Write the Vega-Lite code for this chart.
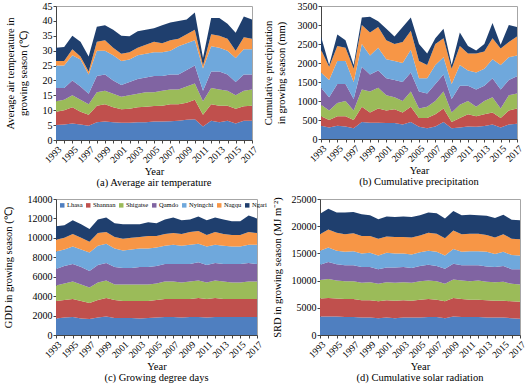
{
  "$schema": "https://vega.github.io/schema/vega-lite/v6.json",
  "padding": {"left": 2, "top": 0, "right": 2, "bottom": 0},
  "config": {
    "font": "Liberation Serif",
    "view": {"stroke": "#a6a6a6", "strokeWidth": 1},
    "axis": {"labelFont": "Liberation Serif", "titleFont": "Liberation Serif", "labelFontSize": 10, "titleFontSize": 10.5, "titleFontWeight": "normal", "labelColor": "#000", "titleColor": "#000", "domainColor": "#444", "tickColor": "#444", "tickSize": 3, "grid": false, "labelPadding": 1, "titlePadding": 14},
    "axisX": {"titlePadding": 2, "labelOverlap": false, "labelFontSize": 9.5},
    "title": {"font": "Liberation Serif", "fontSize": 10.5, "fontWeight": "normal", "color": "#000"},
    "legend": {"labelFont": "Liberation Serif", "labelFontSize": 6.5, "labelColor": "#000", "symbolType": "square", "symbolSize": 20, "symbolStrokeWidth": 0, "columnPadding": 2, "labelOffset": 1.5, "padding": 0}
  },
  "datasets": {
    "cities": [
      {"city": "Lhasa", "k": 1}, {"city": "Shannan", "k": 2}, {"city": "Shigatse", "k": 3}, {"city": "Qamdo", "k": 4},
      {"city": "Nyingchi", "k": 5}, {"city": "Nagqu", "k": 6}, {"city": "Ngari", "k": 7}
    ],
    "temp": [
      {"year": 1993, "Lhasa": 5.0, "Shannan": 4.5, "Shigatse": 3.5, "Qamdo": 4.5, "Nyingchi": 7.5, "Nagqu": 1.5, "Ngari": 4.5},
      {"year": 1994, "Lhasa": 5.2, "Shannan": 4.8, "Shigatse": 3.5, "Qamdo": 4.0, "Nyingchi": 7.5, "Nagqu": 1.5, "Ngari": 4.7},
      {"year": 1995, "Lhasa": 5.5, "Shannan": 5.5, "Shigatse": 4.0, "Qamdo": 5.0, "Nyingchi": 8.5, "Nagqu": 2.0, "Ngari": 4.5},
      {"year": 1996, "Lhasa": 5.2, "Shannan": 4.3, "Shigatse": 4.0, "Qamdo": 4.5, "Nyingchi": 9.0, "Nagqu": 1.0, "Ngari": 5.0},
      {"year": 1997, "Lhasa": 4.8, "Shannan": 3.7, "Shigatse": 3.5, "Qamdo": 3.5, "Nyingchi": 6.5, "Nagqu": 1.0, "Ngari": 5.0},
      {"year": 1998, "Lhasa": 6.0, "Shannan": 5.5, "Shigatse": 4.5, "Qamdo": 5.5, "Nyingchi": 8.5, "Nagqu": 3.0, "Ngari": 5.0},
      {"year": 1999, "Lhasa": 6.2, "Shannan": 5.8, "Shigatse": 4.5, "Qamdo": 5.5, "Nyingchi": 8.0, "Nagqu": 3.5, "Ngari": 5.0},
      {"year": 2000, "Lhasa": 6.0, "Shannan": 5.0, "Shigatse": 4.5, "Qamdo": 4.5, "Nyingchi": 8.5, "Nagqu": 2.5, "Ngari": 6.0},
      {"year": 2001, "Lhasa": 5.8, "Shannan": 4.5, "Shigatse": 4.2, "Qamdo": 4.0, "Nyingchi": 8.0, "Nagqu": 2.5, "Ngari": 6.0},
      {"year": 2002, "Lhasa": 5.8, "Shannan": 4.7, "Shigatse": 4.5, "Qamdo": 4.5, "Nyingchi": 7.5, "Nagqu": 2.5, "Ngari": 5.3},
      {"year": 2003, "Lhasa": 6.0, "Shannan": 5.0, "Shigatse": 4.5, "Qamdo": 5.0, "Nyingchi": 8.0, "Nagqu": 2.5, "Ngari": 5.5},
      {"year": 2004, "Lhasa": 6.0, "Shannan": 5.2, "Shigatse": 4.8, "Qamdo": 5.0, "Nyingchi": 8.0, "Nagqu": 3.0, "Ngari": 5.0},
      {"year": 2005, "Lhasa": 6.2, "Shannan": 5.2, "Shigatse": 4.6, "Qamdo": 5.5, "Nyingchi": 8.0, "Nagqu": 3.5, "Ngari": 4.5},
      {"year": 2006, "Lhasa": 6.2, "Shannan": 5.3, "Shigatse": 5.0, "Qamdo": 5.0, "Nyingchi": 8.0, "Nagqu": 3.0, "Ngari": 6.0},
      {"year": 2007, "Lhasa": 6.3, "Shannan": 5.7, "Shigatse": 5.0, "Qamdo": 5.0, "Nyingchi": 8.0, "Nagqu": 3.5, "Ngari": 6.0},
      {"year": 2008, "Lhasa": 6.5, "Shannan": 5.5, "Shigatse": 5.0, "Qamdo": 5.0, "Nyingchi": 9.5, "Nagqu": 2.5, "Ngari": 6.0},
      {"year": 2009, "Lhasa": 6.8, "Shannan": 5.7, "Shigatse": 5.5, "Qamdo": 5.5, "Nyingchi": 9.0, "Nagqu": 3.0, "Ngari": 5.0},
      {"year": 2010, "Lhasa": 7.0, "Shannan": 6.5, "Shigatse": 5.5, "Qamdo": 6.0, "Nyingchi": 8.5, "Nagqu": 3.5, "Ngari": 5.8},
      {"year": 2011, "Lhasa": 4.5, "Shannan": 4.0, "Shigatse": 4.5, "Qamdo": 3.5, "Nyingchi": 7.5, "Nagqu": 1.0, "Ngari": 2.5},
      {"year": 2012, "Lhasa": 6.5, "Shannan": 5.5, "Shigatse": 5.5, "Qamdo": 5.5, "Nyingchi": 8.5, "Nagqu": 4.0, "Ngari": 5.5},
      {"year": 2013, "Lhasa": 6.0, "Shannan": 5.5, "Shigatse": 5.5, "Qamdo": 6.0, "Nyingchi": 8.0, "Nagqu": 4.0, "Ngari": 6.0},
      {"year": 2014, "Lhasa": 6.5, "Shannan": 5.0, "Shigatse": 5.0, "Qamdo": 5.5, "Nyingchi": 8.0, "Nagqu": 4.0, "Ngari": 5.0},
      {"year": 2015, "Lhasa": 5.5, "Shannan": 5.0, "Shigatse": 4.5, "Qamdo": 4.5, "Nyingchi": 8.0, "Nagqu": 2.5, "Ngari": 6.0},
      {"year": 2016, "Lhasa": 6.5, "Shannan": 4.8, "Shigatse": 5.2, "Qamdo": 5.5, "Nyingchi": 8.5, "Nagqu": 4.0, "Ngari": 7.0},
      {"year": 2017, "Lhasa": 6.5, "Shannan": 5.0, "Shigatse": 5.5, "Qamdo": 5.0, "Nyingchi": 8.5, "Nagqu": 3.5, "Ngari": 6.5}
    ],
    "prec": [
      {"year": 1993, "Lhasa": 350, "Shannan": 250, "Shigatse": 300, "Qamdo": 450, "Nyingchi": 400, "Nagqu": 600, "Ngari": 350},
      {"year": 1994, "Lhasa": 300, "Shannan": 200, "Shigatse": 250, "Qamdo": 350, "Nyingchi": 450, "Nagqu": 350, "Ngari": 50},
      {"year": 1995, "Lhasa": 350, "Shannan": 250, "Shigatse": 350, "Qamdo": 500, "Nyingchi": 600, "Nagqu": 400, "Ngari": 300},
      {"year": 1996, "Lhasa": 330, "Shannan": 270, "Shigatse": 400, "Qamdo": 450, "Nyingchi": 600, "Nagqu": 350, "Ngari": 200},
      {"year": 1997, "Lhasa": 280, "Shannan": 220, "Shigatse": 250, "Qamdo": 300, "Nyingchi": 450, "Nagqu": 350, "Ngari": 100},
      {"year": 1998, "Lhasa": 450, "Shannan": 400, "Shigatse": 450, "Qamdo": 600, "Nyingchi": 600, "Nagqu": 500, "Ngari": 200},
      {"year": 1999, "Lhasa": 430, "Shannan": 270, "Shigatse": 550, "Qamdo": 450, "Nyingchi": 500, "Nagqu": 600, "Ngari": 420},
      {"year": 2000, "Lhasa": 430, "Shannan": 370, "Shigatse": 550, "Qamdo": 450, "Nyingchi": 600, "Nagqu": 550, "Ngari": 150},
      {"year": 2001, "Lhasa": 420, "Shannan": 330, "Shigatse": 400, "Qamdo": 450, "Nyingchi": 500, "Nagqu": 500, "Ngari": 300},
      {"year": 2002, "Lhasa": 420, "Shannan": 360, "Shigatse": 320, "Qamdo": 450, "Nyingchi": 500, "Nagqu": 450, "Ngari": 200},
      {"year": 2003, "Lhasa": 380, "Shannan": 320, "Shigatse": 300, "Qamdo": 500, "Nyingchi": 500, "Nagqu": 550, "Ngari": 400},
      {"year": 2004, "Lhasa": 450, "Shannan": 400, "Shigatse": 400, "Qamdo": 500, "Nyingchi": 600, "Nagqu": 500, "Ngari": 350},
      {"year": 2005, "Lhasa": 320, "Shannan": 230, "Shigatse": 250, "Qamdo": 450, "Nyingchi": 350, "Nagqu": 450, "Ngari": 450},
      {"year": 2006, "Lhasa": 280, "Shannan": 270, "Shigatse": 300, "Qamdo": 350, "Nyingchi": 400, "Nagqu": 350, "Ngari": 300},
      {"year": 2007, "Lhasa": 330, "Shannan": 320, "Shigatse": 350, "Qamdo": 450, "Nyingchi": 500, "Nagqu": 550, "Ngari": 150},
      {"year": 2008, "Lhasa": 450, "Shannan": 350, "Shigatse": 450, "Qamdo": 450, "Nyingchi": 450, "Nagqu": 500, "Ngari": 250},
      {"year": 2009, "Lhasa": 280, "Shannan": 170, "Shigatse": 250, "Qamdo": 350, "Nyingchi": 400, "Nagqu": 400, "Ngari": 100},
      {"year": 2010, "Lhasa": 300, "Shannan": 250, "Shigatse": 350, "Qamdo": 500, "Nyingchi": 550, "Nagqu": 500, "Ngari": 350},
      {"year": 2011, "Lhasa": 330, "Shannan": 320, "Shigatse": 350, "Qamdo": 400, "Nyingchi": 400, "Nagqu": 450, "Ngari": 200},
      {"year": 2012, "Lhasa": 320, "Shannan": 280, "Shigatse": 250, "Qamdo": 450, "Nyingchi": 450, "Nagqu": 500, "Ngari": 80},
      {"year": 2013, "Lhasa": 340, "Shannan": 310, "Shigatse": 350, "Qamdo": 400, "Nyingchi": 450, "Nagqu": 450, "Ngari": 200},
      {"year": 2014, "Lhasa": 380, "Shannan": 320, "Shigatse": 400, "Qamdo": 500, "Nyingchi": 500, "Nagqu": 550, "Ngari": 400},
      {"year": 2015, "Lhasa": 300, "Shannan": 250, "Shigatse": 250, "Qamdo": 500, "Nyingchi": 650, "Nagqu": 430, "Ngari": 100},
      {"year": 2016, "Lhasa": 380, "Shannan": 370, "Shigatse": 400, "Qamdo": 400, "Nyingchi": 600, "Nagqu": 400, "Ngari": 450},
      {"year": 2017, "Lhasa": 400, "Shannan": 400, "Shigatse": 400, "Qamdo": 450, "Nyingchi": 550, "Nagqu": 500, "Ngari": 250}
    ],
    "gdd": [
      {"year": 1993, "Lhasa": 1700, "Shannan": 1800, "Shigatse": 1600, "Qamdo": 1700, "Nyingchi": 1800, "Nagqu": 1200, "Ngari": 1400},
      {"year": 1994, "Lhasa": 1800, "Shannan": 1800, "Shigatse": 1700, "Qamdo": 1800, "Nyingchi": 1700, "Nagqu": 1200, "Ngari": 1300},
      {"year": 1995, "Lhasa": 1850, "Shannan": 1850, "Shigatse": 1800, "Qamdo": 1800, "Nyingchi": 1800, "Nagqu": 1300, "Ngari": 1400},
      {"year": 1996, "Lhasa": 1700, "Shannan": 1800, "Shigatse": 1700, "Qamdo": 1800, "Nyingchi": 1800, "Nagqu": 1200, "Ngari": 1400},
      {"year": 1997, "Lhasa": 1650, "Shannan": 1650, "Shigatse": 1600, "Qamdo": 1700, "Nyingchi": 1900, "Nagqu": 1100, "Ngari": 1300},
      {"year": 1998, "Lhasa": 1800, "Shannan": 1800, "Shigatse": 1800, "Qamdo": 1800, "Nyingchi": 2000, "Nagqu": 1300, "Ngari": 1400},
      {"year": 1999, "Lhasa": 1900, "Shannan": 1900, "Shigatse": 1800, "Qamdo": 1800, "Nyingchi": 2000, "Nagqu": 1200, "Ngari": 1500},
      {"year": 2000, "Lhasa": 1750, "Shannan": 1850, "Shigatse": 1600, "Qamdo": 1800, "Nyingchi": 1900, "Nagqu": 1200, "Ngari": 1400},
      {"year": 2001, "Lhasa": 1750, "Shannan": 1750, "Shigatse": 1700, "Qamdo": 1700, "Nyingchi": 1800, "Nagqu": 1200, "Ngari": 1500},
      {"year": 2002, "Lhasa": 1750, "Shannan": 1750, "Shigatse": 1700, "Qamdo": 1700, "Nyingchi": 1900, "Nagqu": 1200, "Ngari": 1400},
      {"year": 2003, "Lhasa": 1700, "Shannan": 1800, "Shigatse": 1700, "Qamdo": 1800, "Nyingchi": 1900, "Nagqu": 1200, "Ngari": 1300},
      {"year": 2004, "Lhasa": 1750, "Shannan": 1750, "Shigatse": 1700, "Qamdo": 1800, "Nyingchi": 1900, "Nagqu": 1300, "Ngari": 1400},
      {"year": 2005, "Lhasa": 1800, "Shannan": 1800, "Shigatse": 1700, "Qamdo": 1800, "Nyingchi": 1900, "Nagqu": 1200, "Ngari": 1300},
      {"year": 2006, "Lhasa": 1850, "Shannan": 1850, "Shigatse": 1800, "Qamdo": 1800, "Nyingchi": 1900, "Nagqu": 1200, "Ngari": 1500},
      {"year": 2007, "Lhasa": 1850, "Shannan": 1850, "Shigatse": 1800, "Qamdo": 1800, "Nyingchi": 2000, "Nagqu": 1200, "Ngari": 1600},
      {"year": 2008, "Lhasa": 1800, "Shannan": 1900, "Shigatse": 1700, "Qamdo": 1900, "Nyingchi": 1900, "Nagqu": 1200, "Ngari": 1400},
      {"year": 2009, "Lhasa": 1850, "Shannan": 1850, "Shigatse": 1800, "Qamdo": 1800, "Nyingchi": 2000, "Nagqu": 1300, "Ngari": 1300},
      {"year": 2010, "Lhasa": 1850, "Shannan": 1950, "Shigatse": 1800, "Qamdo": 1900, "Nyingchi": 1900, "Nagqu": 1300, "Ngari": 1500},
      {"year": 2011, "Lhasa": 1800, "Shannan": 1900, "Shigatse": 1700, "Qamdo": 1800, "Nyingchi": 1900, "Nagqu": 1200, "Ngari": 1500},
      {"year": 2012, "Lhasa": 1850, "Shannan": 1950, "Shigatse": 1800, "Qamdo": 1800, "Nyingchi": 1900, "Nagqu": 1300, "Ngari": 1500},
      {"year": 2013, "Lhasa": 1850, "Shannan": 1850, "Shigatse": 1800, "Qamdo": 1800, "Nyingchi": 1900, "Nagqu": 1200, "Ngari": 1500},
      {"year": 2014, "Lhasa": 1850, "Shannan": 1850, "Shigatse": 1700, "Qamdo": 1900, "Nyingchi": 1800, "Nagqu": 1200, "Ngari": 1400},
      {"year": 2015, "Lhasa": 1850, "Shannan": 1850, "Shigatse": 1700, "Qamdo": 1900, "Nyingchi": 1800, "Nagqu": 1200, "Ngari": 1400},
      {"year": 2016, "Lhasa": 1850, "Shannan": 1850, "Shigatse": 1800, "Qamdo": 1900, "Nyingchi": 1900, "Nagqu": 1300, "Ngari": 1700},
      {"year": 2017, "Lhasa": 1850, "Shannan": 1850, "Shigatse": 1800, "Qamdo": 1800, "Nyingchi": 2000, "Nagqu": 1200, "Ngari": 1500}
    ],
    "srd": [
      {"year": 1993, "Lhasa": 3400, "Shannan": 3300, "Shigatse": 3400, "Qamdo": 2800, "Nyingchi": 2600, "Nagqu": 3000, "Ngari": 3800},
      {"year": 1994, "Lhasa": 3400, "Shannan": 3400, "Shigatse": 3500, "Qamdo": 3100, "Nyingchi": 2700, "Nagqu": 3300, "Ngari": 3800},
      {"year": 1995, "Lhasa": 3400, "Shannan": 3300, "Shigatse": 3300, "Qamdo": 3000, "Nyingchi": 2500, "Nagqu": 3300, "Ngari": 3700},
      {"year": 1996, "Lhasa": 3300, "Shannan": 3300, "Shigatse": 3300, "Qamdo": 2900, "Nyingchi": 2500, "Nagqu": 3200, "Ngari": 4000},
      {"year": 1997, "Lhasa": 3300, "Shannan": 3300, "Shigatse": 3300, "Qamdo": 2900, "Nyingchi": 2600, "Nagqu": 3300, "Ngari": 3900},
      {"year": 1998, "Lhasa": 3200, "Shannan": 3200, "Shigatse": 3200, "Qamdo": 2900, "Nyingchi": 2500, "Nagqu": 3200, "Ngari": 4000},
      {"year": 1999, "Lhasa": 3200, "Shannan": 3200, "Shigatse": 3300, "Qamdo": 2800, "Nyingchi": 2600, "Nagqu": 3100, "Ngari": 3800},
      {"year": 2000, "Lhasa": 3100, "Shannan": 3100, "Shigatse": 3200, "Qamdo": 2700, "Nyingchi": 2500, "Nagqu": 3100, "Ngari": 3600},
      {"year": 2001, "Lhasa": 3200, "Shannan": 3200, "Shigatse": 3300, "Qamdo": 2700, "Nyingchi": 2700, "Nagqu": 3000, "Ngari": 3700},
      {"year": 2002, "Lhasa": 3100, "Shannan": 3200, "Shigatse": 3300, "Qamdo": 2800, "Nyingchi": 2600, "Nagqu": 3000, "Ngari": 3700},
      {"year": 2003, "Lhasa": 3200, "Shannan": 3200, "Shigatse": 3300, "Qamdo": 2800, "Nyingchi": 2500, "Nagqu": 3000, "Ngari": 3800},
      {"year": 2004, "Lhasa": 3200, "Shannan": 3100, "Shigatse": 3300, "Qamdo": 2700, "Nyingchi": 2500, "Nagqu": 3100, "Ngari": 3800},
      {"year": 2005, "Lhasa": 3200, "Shannan": 3300, "Shigatse": 3400, "Qamdo": 2800, "Nyingchi": 2500, "Nagqu": 3100, "Ngari": 3700},
      {"year": 2006, "Lhasa": 3300, "Shannan": 3300, "Shigatse": 3400, "Qamdo": 2900, "Nyingchi": 2600, "Nagqu": 3300, "Ngari": 3700},
      {"year": 2007, "Lhasa": 3300, "Shannan": 3200, "Shigatse": 3400, "Qamdo": 2800, "Nyingchi": 2600, "Nagqu": 3300, "Ngari": 3800},
      {"year": 2008, "Lhasa": 3100, "Shannan": 3100, "Shigatse": 3200, "Qamdo": 2800, "Nyingchi": 2400, "Nagqu": 3200, "Ngari": 3600},
      {"year": 2009, "Lhasa": 3400, "Shannan": 3400, "Shigatse": 3400, "Qamdo": 2900, "Nyingchi": 2700, "Nagqu": 3400, "Ngari": 3600},
      {"year": 2010, "Lhasa": 3300, "Shannan": 3300, "Shigatse": 3400, "Qamdo": 2800, "Nyingchi": 2500, "Nagqu": 3200, "Ngari": 3500},
      {"year": 2011, "Lhasa": 3300, "Shannan": 3200, "Shigatse": 3400, "Qamdo": 2900, "Nyingchi": 2600, "Nagqu": 3200, "Ngari": 3500},
      {"year": 2012, "Lhasa": 3300, "Shannan": 3200, "Shigatse": 3500, "Qamdo": 2800, "Nyingchi": 2600, "Nagqu": 3200, "Ngari": 3400},
      {"year": 2013, "Lhasa": 3200, "Shannan": 3200, "Shigatse": 3400, "Qamdo": 2800, "Nyingchi": 2700, "Nagqu": 3100, "Ngari": 3500},
      {"year": 2014, "Lhasa": 3200, "Shannan": 3100, "Shigatse": 3400, "Qamdo": 2800, "Nyingchi": 2400, "Nagqu": 3000, "Ngari": 3600},
      {"year": 2015, "Lhasa": 3200, "Shannan": 3100, "Shigatse": 3500, "Qamdo": 2900, "Nyingchi": 2600, "Nagqu": 3200, "Ngari": 3600},
      {"year": 2016, "Lhasa": 3100, "Shannan": 3100, "Shigatse": 3200, "Qamdo": 2700, "Nyingchi": 2600, "Nagqu": 3000, "Ngari": 3500},
      {"year": 2017, "Lhasa": 3000, "Shannan": 3100, "Shigatse": 3200, "Qamdo": 2800, "Nyingchi": 2500, "Nagqu": 3000, "Ngari": 3500}
    ]
  },
  "spacing": 4,
  "resolve": {"scale": {"color": "independent"}, "legend": {"color": "independent"}},
  "vconcat": [
    {
      "spacing": 3,
      "resolve": {"scale": {"color": "independent"}, "legend": {"color": "independent"}},
      "hconcat": [
        {
          "width": 196, "height": 134,
          "data": {"name": "temp"},
          "transform": [
            {"fold": ["Lhasa", "Shannan", "Shigatse", "Qamdo", "Nyingchi", "Nagqu", "Ngari"], "as": ["city", "v"]},
            {"lookup": "city", "from": {"data": {"name": "cities"}, "key": "city", "fields": ["k"]}}
          ],
          "title": {"text": "(a) Average air temperature", "orient": "bottom", "offset": 1},
          "mark": {"type": "area"},
          "encoding": {
            "x": {"field": "year", "type": "quantitative", "scale": {"domain": [1993, 2017], "nice": false, "zero": false},
                  "axis": {"values": [1993, 1994, 1995, 1996, 1997, 1998, 1999, 2000, 2001, 2002, 2003, 2004, 2005, 2006, 2007, 2008, 2009, 2010, 2011, 2012, 2013, 2014, 2015, 2016, 2017], "labelExpr": "datum.value % 2 == 1 ? datum.label : ''", "format": "d", "labelAngle": -45, "title": "Year"}},
            "y": {"field": "v", "type": "quantitative", "stack": "zero", "scale": {"domain": [0, 45], "nice": false},
                  "axis": {"values": [0, 5, 10, 15, 20, 25, 30, 35, 40, 45], "title": ["Average air temperature in", "growing season (℃)"]}},
            "color": {"field": "city", "type": "nominal",
                      "scale": {"domain": ["Lhasa", "Shannan", "Shigatse", "Qamdo", "Nyingchi", "Nagqu", "Ngari"], "range": ["#4f7fc0", "#c0504d", "#9bbb59", "#8064a2", "#6fa8dc", "#f79646", "#1f3f6e"]},
                      "legend": null},
            "order": {"field": "k", "type": "quantitative", "sort": "ascending"}
          }
        },
        {
          "width": 196, "height": 133,
          "data": {"name": "prec"},
          "transform": [
            {"fold": ["Lhasa", "Shannan", "Shigatse", "Qamdo", "Nyingchi", "Nagqu", "Ngari"], "as": ["city", "v"]},
            {"lookup": "city", "from": {"data": {"name": "cities"}, "key": "city", "fields": ["k"]}}
          ],
          "title": {"text": "(b) Cumulative precipitation", "orient": "bottom", "offset": 1},
          "mark": {"type": "area"},
          "encoding": {
            "x": {"field": "year", "type": "quantitative", "scale": {"domain": [1993, 2017], "nice": false, "zero": false},
                  "axis": {"values": [1993, 1994, 1995, 1996, 1997, 1998, 1999, 2000, 2001, 2002, 2003, 2004, 2005, 2006, 2007, 2008, 2009, 2010, 2011, 2012, 2013, 2014, 2015, 2016, 2017], "labelExpr": "datum.value % 2 == 1 ? datum.label : ''", "format": "d", "labelAngle": -45, "title": "Year"}},
            "y": {"field": "v", "type": "quantitative", "stack": "zero", "scale": {"domain": [0, 3500], "nice": false},
                  "axis": {"values": [0, 500, 1000, 1500, 2000, 2500, 3000, 3500], "format": "d", "titlePadding": 11, "title": ["Cumulative precipitation", "in growing season (mm)"]}},
            "color": {"field": "city", "type": "nominal",
                      "scale": {"domain": ["Lhasa", "Shannan", "Shigatse", "Qamdo", "Nyingchi", "Nagqu", "Ngari"], "range": ["#4f7fc0", "#c0504d", "#9bbb59", "#8064a2", "#6fa8dc", "#f79646", "#1f3f6e"]},
                      "legend": null},
            "order": {"field": "k", "type": "quantitative", "sort": "ascending"}
          }
        }
      ]
    },
    {
      "spacing": 3,
      "resolve": {"scale": {"color": "independent"}, "legend": {"color": "independent"}},
      "hconcat": [
        {
          "width": 201, "height": 136,
          "data": {"name": "gdd"},
          "transform": [
            {"fold": ["Lhasa", "Shannan", "Shigatse", "Qamdo", "Nyingchi", "Nagqu", "Ngari"], "as": ["city", "v"]},
            {"lookup": "city", "from": {"data": {"name": "cities"}, "key": "city", "fields": ["k"]}}
          ],
          "title": {"text": "(c) Growing degree days", "orient": "bottom", "offset": 1},
          "mark": {"type": "area"},
          "encoding": {
            "x": {"field": "year", "type": "quantitative", "scale": {"domain": [1993, 2017], "nice": false, "zero": false},
                  "axis": {"values": [1993, 1994, 1995, 1996, 1997, 1998, 1999, 2000, 2001, 2002, 2003, 2004, 2005, 2006, 2007, 2008, 2009, 2010, 2011, 2012, 2013, 2014, 2015, 2016, 2017], "labelExpr": "datum.value % 2 == 1 ? datum.label : ''", "format": "d", "labelAngle": -45, "title": "Year"}},
            "y": {"field": "v", "type": "quantitative", "stack": "zero", "scale": {"domain": [0, 14000], "nice": false},
                  "axis": {"values": [0, 2000, 4000, 6000, 8000, 10000, 12000, 14000], "format": "d", "title": "GDD in growing season (℃)"}},
            "color": {"field": "city", "type": "nominal",
                      "scale": {"domain": ["Lhasa", "Shannan", "Shigatse", "Qamdo", "Nyingchi", "Nagqu", "Ngari"], "range": ["#4f7fc0", "#c0504d", "#9bbb59", "#8064a2", "#6fa8dc", "#f79646", "#1f3f6e"]},
                      "legend": {"title": null, "orient": "top-left", "offset": 3, "direction": "horizontal", "columns": 7}},
            "order": {"field": "k", "type": "quantitative", "sort": "ascending"}
          }
        },
        {
          "width": 200, "height": 136,
          "data": {"name": "srd"},
          "transform": [
            {"fold": ["Lhasa", "Shannan", "Shigatse", "Qamdo", "Nyingchi", "Nagqu", "Ngari"], "as": ["city", "v"]},
            {"lookup": "city", "from": {"data": {"name": "cities"}, "key": "city", "fields": ["k"]}}
          ],
          "title": {"text": "(d) Cumulative solar radiation", "orient": "bottom", "offset": 1},
          "mark": {"type": "area"},
          "encoding": {
            "x": {"field": "year", "type": "quantitative", "scale": {"domain": [1993, 2017], "nice": false, "zero": false},
                  "axis": {"values": [1993, 1994, 1995, 1996, 1997, 1998, 1999, 2000, 2001, 2002, 2003, 2004, 2005, 2006, 2007, 2008, 2009, 2010, 2011, 2012, 2013, 2014, 2015, 2016, 2017], "labelExpr": "datum.value % 2 == 1 ? datum.label : ''", "format": "d", "labelAngle": -45, "title": "Year"}},
            "y": {"field": "v", "type": "quantitative", "stack": "zero", "scale": {"domain": [0, 25000], "nice": false},
                  "axis": {"values": [0, 5000, 10000, 15000, 20000, 25000], "format": "d", "titlePadding": 9, "title": "SRD in growing season (MJ m⁻²)"}},
            "color": {"field": "city", "type": "nominal",
                      "scale": {"domain": ["Lhasa", "Shannan", "Shigatse", "Qamdo", "Nyingchi", "Nagqu", "Ngari"], "range": ["#4f7fc0", "#c0504d", "#9bbb59", "#8064a2", "#6fa8dc", "#f79646", "#1f3f6e"]},
                      "legend": null},
            "order": {"field": "k", "type": "quantitative", "sort": "ascending"}
          }
        }
      ]
    }
  ]
}
